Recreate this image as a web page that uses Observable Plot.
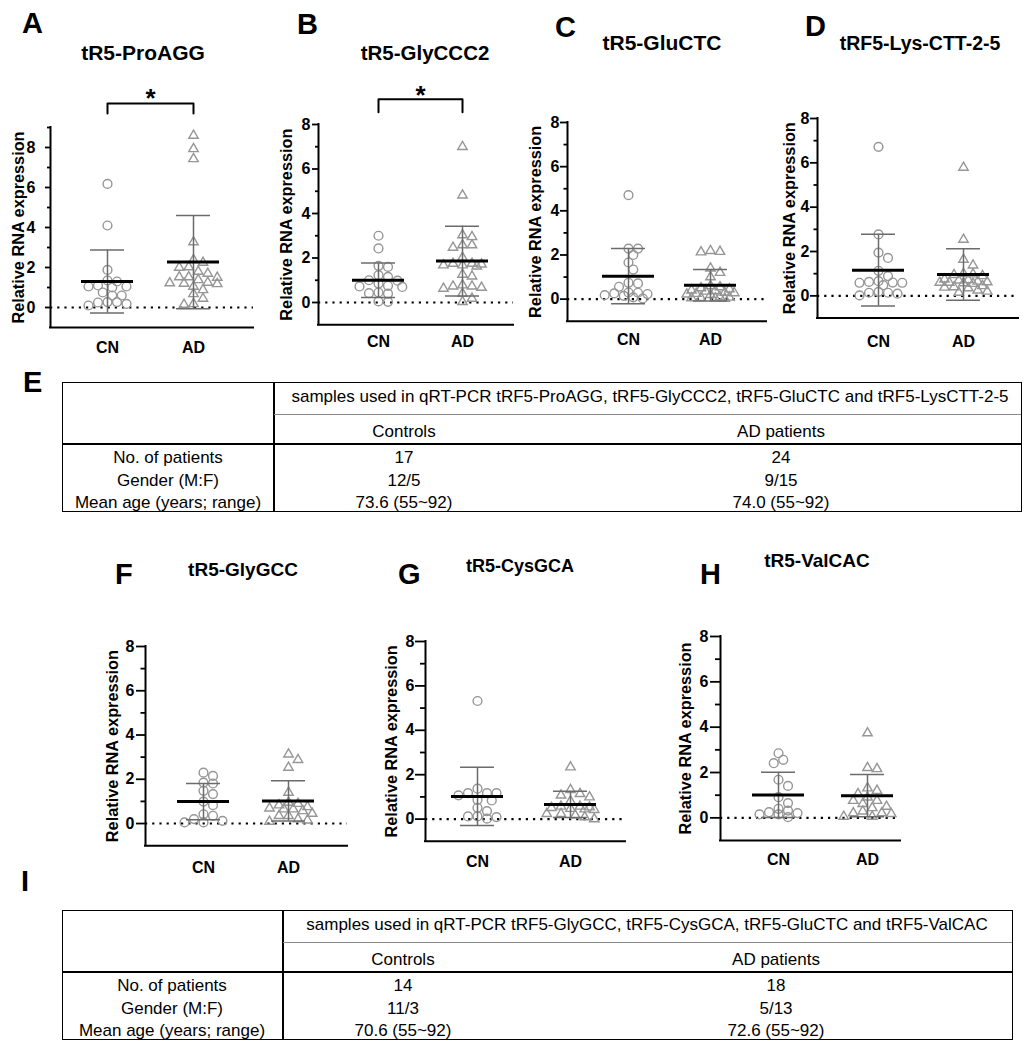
<!DOCTYPE html>
<html>
<head>
<meta charset="utf-8">
<script src="https://cdn.jsdelivr.net/npm/d3@7"></script>
<script src="https://cdn.jsdelivr.net/npm/@observablehq/plot@0.6"></script>
<style>
  html, body { margin: 0; padding: 0; background: #fff; }
  #root { position: relative; width: 1030px; height: 1050px; overflow: hidden; background: #fff;
          font-family: "Liberation Sans", Arial, Helvetica, sans-serif; color: #000; }
</style>
</head>
<body>
<div id="root"></div>
<script>
// ---------------- DATA ----------------
const groups = ["CN", "AD"];
const yLabel = "Relative RNA expression";
const yMajorTicks = [0, 2, 4, 6, 8];
const yMinorTicks = [1, 3, 5, 7];
const sigLabel = "*";
const panelLetters = ["A", "B", "C", "D", "F", "G", "H"];
const panelTitles = ["tR5-ProAGG", "tR5-GlyCCC2", "tR5-GluCTC", "tRF5-Lys-CTT-2-5", "tR5-GlyGCC", "tR5-CysGCA", "tR5-ValCAC"];

const A_CN = [6.18, 4.1, 1.88, 1.35, 1.3, 1.1, 1.05, 1.05, 1.0, 0.75, 0.6, 0.6, 0.27, 0.27, 0.25, 0.18, 0.1];
const A_AD = [8.6, 7.93, 7.43, 3.27, 2.38, 2.25, 2.02, 2.0, 1.8, 1.7, 1.52, 1.52, 1.5, 1.38, 1.25, 1.22, 1.2, 1.18, 1.05, 0.88, 0.68, 0.45, 0.18, 0.15];
const A_MEAN = [1.30, 2.27];
const A_SD = [1.58, 2.33];

const B_CN = [3.0, 2.43, 1.65, 1.6, 1.23, 1.15, 1.0, 0.98, 0.85, 0.75, 0.72, 0.7, 0.45, 0.42, 0.4, 0.05, 0.03];
const B_AD = [7.0, 4.82, 3.03, 2.95, 2.58, 2.58, 2.47, 2.02, 1.75, 1.75, 1.72, 1.68, 1.68, 1.63, 1.26, 1.18, 0.78, 0.73, 0.73, 0.67, 0.63, 0.4, 0.18, 0.03];
const B_MEAN = [1.00, 1.86];
const B_SD = [0.78, 1.57];

const C_CN = [4.71, 2.29, 2.29, 2.0, 1.66, 1.34, 0.74, 0.71, 0.56, 0.3, 0.29, 0.26, 0.23, 0.18, 0.15, 0.08, 0.03];
const C_AD = [2.19, 2.15, 2.13, 1.4, 1.2, 1.0, 0.6, 0.55, 0.5, 0.45, 0.4, 0.38, 0.35, 0.3, 0.28, 0.25, 0.22, 0.2, 0.1, 0.08, 0.06, 0.05, 0.04, 0.03];
const C_MEAN = [1.04, 0.63];
const C_SD = [1.25, 0.71];

const D_CN = [6.72, 2.77, 1.95, 1.71, 1.13, 0.89, 0.66, 0.63, 0.6, 0.59, 0.59, 0.48, 0.18, 0.14, 0.14, 0.1, 0.02];
const D_AD = [5.79, 2.54, 1.64, 1.38, 1.0, 0.98, 0.95, 0.9, 0.75, 0.72, 0.7, 0.65, 0.62, 0.6, 0.6, 0.58, 0.55, 0.45, 0.4, 0.38, 0.35, 0.25, 0.2, 0.15];
const D_MEAN = [1.16, 0.96];
const D_SD = [1.62, 1.16];

const F_CN = [2.3, 2.15, 1.85, 1.81, 1.48, 1.33, 0.99, 0.83, 0.42, 0.35, 0.2, 0.12, 0.05, 0.05];
const F_AD = [3.13, 2.88, 2.53, 1.4, 0.95, 0.9, 0.83, 0.75, 0.69, 0.65, 0.65, 0.57, 0.45, 0.35, 0.35, 0.2, 0.15, 0.09];
const F_MEAN = [0.99, 1.02];
const F_SD = [0.82, 0.91];

const G_CN = [5.32, 1.37, 1.17, 1.17, 1.17, 1.07, 0.87, 0.84, 0.51, 0.36, 0.12, 0.12, 0.09, 0.02];
const G_AD = [2.34, 1.32, 1.14, 1.07, 0.99, 0.81, 0.57, 0.57, 0.54, 0.51, 0.47, 0.45, 0.42, 0.24, 0.24, 0.17, 0.09, 0.0];
const G_MEAN = [1.02, 0.66];
const G_SD = [1.31, 0.59];

const H_CN = [2.85, 2.56, 2.41, 1.68, 1.41, 0.91, 0.65, 0.4, 0.32, 0.25, 0.21, 0.15, 0.15, 0.03];
const H_AD = [3.74, 2.21, 2.16, 1.31, 1.2, 1.06, 0.91, 0.76, 0.76, 0.62, 0.5, 0.44, 0.29, 0.21, 0.21, 0.18, 0.06, 0.06];
const H_MEAN = [1.01, 0.98];
const H_SD = [1.00, 0.93];

const yTops = [9, 8, 8, 8, 8, 8, 8];
const significant = [true, true, false, false, false, false, false];

// tables
const tableColumns = ["Controls", "AD patients"];
const tableRowLabels = ["No. of patients", "Gender (M:F)", "Mean age (years; range)"];
const tableE_header = "samples used in qRT-PCR tRF5-ProAGG, tRF5-GlyCCC2, tRF5-GluCTC and tRF5-LysCTT-2-5";
const tableE_controls = ["17", "12/5", "73.6 (55~92)"];
const tableE_ad = ["24", "9/15", "74.0 (55~92)"];
const tableI_header = "samples used in qRT-PCR tRF5-GlyGCC, tRF5-CysGCA, tRF5-GluCTC and tRF5-ValCAC";
const tableI_controls = ["14", "11/3", "70.6 (55~92)"];
const tableI_ad = ["18", "5/13", "72.6 (55~92)"];

// ---------------- LAYOUT ----------------
const panelData = [
  {cn: A_CN, ad: A_AD, mean: A_MEAN, sd: A_SD},
  {cn: B_CN, ad: B_AD, mean: B_MEAN, sd: B_SD},
  {cn: C_CN, ad: C_AD, mean: C_MEAN, sd: C_SD},
  {cn: D_CN, ad: D_AD, mean: D_MEAN, sd: D_SD},
  {cn: F_CN, ad: F_AD, mean: F_MEAN, sd: F_SD},
  {cn: G_CN, ad: G_AD, mean: G_MEAN, sd: G_SD},
  {cn: H_CN, ad: H_AD, mean: H_MEAN, sd: H_SD}
];
const panelLayout = [
  {axisX: 50,  cnX: 107, adX: 193, xEnd: 253,  y0: 307,   ppu: 20,    tickSize: 5,  tickPad: 9,  labelDx: -32, xPad: 14.6, letterX: 22,  letterBase: 34,  titleX: 143, titleBase: 60,  titleSize: 21,   sig: {top: 103, bot: 113, star: 106}},
  {axisX: 318, cnX: 378, adX: 462, xEnd: 513,  y0: 302.3, ppu: 22.25, tickSize: 6,  tickPad: 1,  labelDx: -32, xPad: 11,   letterX: 297, letterBase: 35,  titleX: 425, titleBase: 60,  titleSize: 20.5, sig: {top: 99, bot: 112, star: 104}},
  {axisX: 567, cnX: 628, adX: 710, xEnd: 766,  y0: 299,   ppu: 22.08, tickSize: 7,  tickPad: 0,  labelDx: -32, xPad: 12.6, letterX: 555, letterBase: 38,  titleX: 662, titleBase: 50,  titleSize: 21},
  {axisX: 817, cnX: 878, adX: 963, xEnd: 1018, y0: 295.7, ppu: 22.17, tickSize: 7,  tickPad: 0,  labelDx: -28, xPad: 17.8, letterX: 805, letterBase: 37,  titleX: 920, titleBase: 51,  titleSize: 19.5},
  {axisX: 145, cnX: 203, adX: 288, xEnd: 347,  y0: 822.7, ppu: 22.13, tickSize: 9,  tickPad: 1,  labelDx: -33, xPad: 15.8, letterX: 115, letterBase: 585, titleX: 243, titleBase: 576, titleSize: 19},
  {axisX: 425, cnX: 477, adX: 570, xEnd: 625,  y0: 818.7, ppu: 22.2,  tickSize: 10, tickPad: 0,  labelDx: -34, xPad: 14,   letterX: 398, letterBase: 585, titleX: 520, titleBase: 572, titleSize: 18},
  {axisX: 720, cnX: 778, adX: 867, xEnd: 900,  y0: 817.3, ppu: 22.67, tickSize: 10, tickPad: 1,  labelDx: -35, xPad: 13.6, letterX: 700, letterBase: 585, titleX: 817, titleBase: 567, titleSize: 19}
];

const FONT = "'Liberation Sans', Arial, Helvetica, sans-serif";
const root = document.getElementById("root");

function addText(txt, x, baseline, size, weight, anchor) {
  const d = document.createElement("div");
  d.textContent = txt;
  d.style.cssText = `position:absolute;white-space:nowrap;font-family:${FONT};font-size:${size}px;font-weight:${weight};line-height:${size}px;left:${x}px;top:${baseline - 0.8465 * size}px;`;
  if (anchor === "middle") d.style.transform = "translateX(-50%)";
  root.appendChild(d);
  return d;
}
function addBox(left, top, w, h, css) {
  const d = document.createElement("div");
  d.style.cssText = `position:absolute;left:${left}px;top:${top}px;width:${w}px;height:${h}px;box-sizing:border-box;${css}`;
  root.appendChild(d);
}

// compact beeswarm (pixel offsets) computed from the values, limited to a maximum half-width;
// when no free slot is left the least-overlapping slot is used (as in the original column scatter)
function swarm(vals, ppu, sx, sy, maxOff) {
  const order = vals.map((v, i) => i).sort((a, b) => vals[b] - vals[a]);
  const cands = [0];
  for (let k = 1; k * sx / 2 <= maxOff; k++) cands.push(k * sx / 2, -k * sx / 2);
  const placed = [];
  const off = new Array(vals.length).fill(0);
  for (const i of order) {
    const y = vals[i] * ppu;
    let best = 0, bestD = -1, chosen = null;
    for (const c of cands) {
      const dmin = placed.length ? Math.min(...placed.map(p => ((p.x - c) / sx) ** 2 + ((p.y - y) / sy) ** 2)) : Infinity;
      if (dmin >= 0.97) { chosen = c; break; }
      if (dmin > bestD) { bestD = dmin; best = c; }
    }
    if (chosen === null) chosen = best;
    off[i] = chosen; placed.push({x: chosen, y});
  }
  return off;
}

function drawPanel(data, L, k) {
  const yTop = yTops[k];
  const mL = 50, mR = 12, mT = 60, mB = 45;
  const topPx = L.y0 - L.ppu * yTop;
  const botPx = L.y0 + L.ppu * 1;
  const plotW = L.xEnd - L.axisX;
  const width = mL + plotW + mR;
  const height = mT + (botPx - topPx) + mB;
  const pxX = L.adX - L.cnX;
  const xDom = [-(L.cnX - L.axisX) / pxX, (L.xEnd - L.cnX) / pxX];
  const pts = [];
  [data.cn, data.ad].forEach((vals, g) => {
    const off = swarm(vals, L.ppu, 9.5, 7.5, 28);
    vals.forEach((v, i) => pts.push({g, v, x: g + off[i] / pxX}));
  });
  const stats = groups.map((grp, g) => ({g, mean: data.mean[g], sd: data.sd[g]}));
  const caps = stats.flatMap(d => [{g: d.g, y: d.mean - d.sd}, {g: d.g, y: d.mean + d.sd}]);
  const capHalf = 17 / pxX, meanHalf = 26 / pxX;
  const majorLen = L.tickSize / pxX;
  const minorLen = Math.max(3, L.tickSize / 2) / pxX;
  const minor = yTop === 9 ? [...yMinorTicks, 9] : yMinorTicks;
  const errColor = "#6b6b6b";
  const ptColor = "#969696";

  const marks = [
    Plot.ruleY([0], {stroke: "black", strokeWidth: 2.1, strokeDasharray: "2.2,5"}),
    Plot.dot(pts.filter(d => d.g === 0), {x: "x", y: "v", r: 4.4, symbol: "circle", stroke: ptColor, strokeWidth: 1.4, fill: "none"}),
    Plot.dot(pts.filter(d => d.g === 1), {x: "x", y: "v", r: 3.5, symbol: "triangle", stroke: ptColor, strokeWidth: 1.4, fill: "none"}),
    Plot.ruleX(stats, {x: "g", y1: d => d.mean - d.sd, y2: d => d.mean + d.sd, stroke: errColor, strokeWidth: 1.5}),
    Plot.ruleY(caps, {y: "y", x1: d => d.g - capHalf, x2: d => d.g + capHalf, stroke: errColor, strokeWidth: 1.5}),
    Plot.ruleY(stats, {y: "mean", x1: d => d.g - meanHalf, x2: d => d.g + meanHalf, stroke: "black", strokeWidth: 3}),
    Plot.ruleX([xDom[0]], {y1: -1, y2: yTop, stroke: "black", strokeWidth: 2, strokeLinecap: "square"}),
    Plot.ruleY([-1], {stroke: "black", strokeWidth: 2, strokeLinecap: "square"}),
    Plot.ruleY(minor, {x1: xDom[0] - minorLen, x2: xDom[0], stroke: "black", strokeWidth: 1.8}),
    Plot.ruleY(yMajorTicks, {x1: xDom[0] - majorLen, x2: xDom[0], stroke: "black", strokeWidth: 1.8}),
    Plot.text(yMajorTicks, {x: xDom[0], y: d => d, text: d => String(d), textAnchor: "end",
              dx: -(L.tickSize + L.tickPad + 1), fontSize: 16, fontWeight: "bold", fill: "black"}),
    Plot.text(groups, {x: (d, i) => i, y: -1, text: d => d, lineAnchor: "top", dy: L.xPad,
              fontSize: 16, fontWeight: "bold", fill: "black"}),
    Plot.text([yLabel], {text: d => d, frameAnchor: "left", textAnchor: "middle", rotate: -90, dx: L.labelDx,
              fontSize: 16.3, fontWeight: "bold", fill: "black"})
  ];
  if (significant[k] && L.sig) {
    const yv = px => (L.y0 - px) / L.ppu;
    marks.push(Plot.line([[0, yv(L.sig.bot)], [0, yv(L.sig.top)], [1, yv(L.sig.top)], [1, yv(L.sig.bot)]],
      {stroke: "black", strokeWidth: 2}));
    marks.push(Plot.text([{x: 0.5, y: yv(L.sig.star)}], {x: "x", y: "y", text: () => sigLabel, lineAnchor: "bottom",
      fontSize: 26, fontWeight: "bold", fill: "black"}));
  }

  const svg = Plot.plot({
    width, height, marginLeft: mL, marginRight: mR, marginTop: mT, marginBottom: mB,
    x: {type: "linear", domain: xDom, axis: null},
    y: {type: "linear", domain: [-1, yTop], axis: null},
    style: {background: "transparent", overflow: "visible", fontFamily: FONT, color: "black", maxWidth: "none"},
    marks
  });
  svg.style.position = "absolute";
  svg.style.left = (L.axisX - mL) + "px";
  svg.style.top = (topPx - mT) + "px";
  root.appendChild(svg);

  addText(panelLetters[k], L.letterX, L.letterBase, 29, "bold", "start");
  addText(panelTitles[k], L.titleX, L.titleBase, L.titleSize, "bold", "middle");
}

panelData.forEach((d, k) => drawPanel(d, panelLayout[k], k));

// ---------------- TABLES ----------------
function makeTable(T) {
  const h = 130;
  addBox(T.left, T.top, T.right - T.left, h, "border:1.5px solid #000;");
  addBox(T.divider - 0.75, T.top, 1.5, h, "background:#000;");
  addBox(T.divider, T.top + 32, T.right - T.divider - 1, 1, "background:#8a8a8a;");
  addBox(T.left, T.top + 61, T.right - T.left, 1.5, "background:#000;");
  const fs = 17;
  addText(T.header, T.headerX, T.top + 20, fs, "normal", "middle");
  addText(tableColumns[0], T.ctrlX, T.top + 55, fs, "normal", "middle");
  addText(tableColumns[1], T.adX, T.top + 55, fs, "normal", "middle");
  const bases = [81.5, 104.5, 126];
  tableRowLabels.forEach((lab, i) => {
    addText(lab, T.labelX, T.top + bases[i], fs, "normal", "middle");
    addText(T.controls[i], T.ctrlX, T.top + bases[i], fs, "normal", "middle");
    addText(T.ad[i], T.adX, T.top + bases[i], fs, "normal", "middle");
  });
  addText(T.letter, T.letterX, T.letterBase, 29, "bold", "start");
}
makeTable({left: 62, top: 382, right: 1022, divider: 274, labelX: 168, ctrlX: 404, adX: 781, headerX: 650,
  header: tableE_header, controls: tableE_controls, ad: tableE_ad, letter: "E", letterX: 23, letterBase: 393});
makeTable({left: 62, top: 910, right: 1013, divider: 283, labelX: 172, ctrlX: 403, adX: 776, headerX: 647,
  header: tableI_header, controls: tableI_controls, ad: tableI_ad, letter: "I", letterX: 21, letterBase: 892});
</script>
</body>
</html>
